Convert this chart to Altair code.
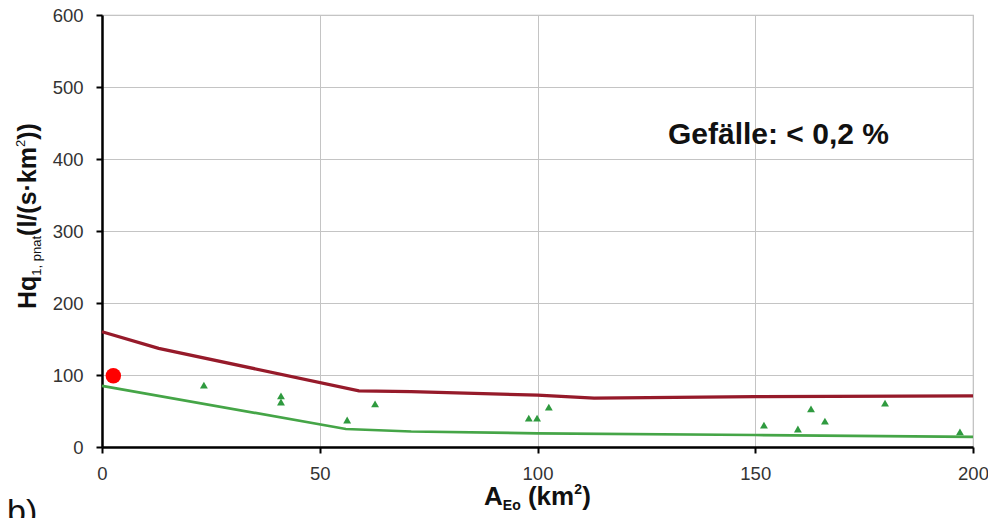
import altair as alt
import pandas as pd

# ---- data ----
red_x = [0, 13, 59, 71, 100, 113, 150, 200]
red_y = [160, 137, 78, 77, 72, 68, 70, 71]
green_x = [0, 56, 71, 100, 150, 200]
green_y = [85, 25, 21.5, 19, 16.7, 14]
obs_x = [23.4, 41.1, 41.1, 56.3, 62.7, 98.0, 99.9, 102.6, 152.0, 159.8, 162.8, 166.0, 179.8, 197.0]
obs_y = [86, 71, 62.5, 37.5, 60, 40, 40, 55.5, 30.5, 25, 53, 36, 61, 21]
dot_x = [2.6]
dot_y = [99]
x_ticks = [0, 50, 100, 150, 200]
y_ticks = [0, 100, 200, 300, 400, 500, 600]
annotation = "Gefälle: < 0,2 %"
panel_label = "b)"

W, H = 871, 432
FONT = "Liberation Sans"

xs = alt.Scale(domain=[0, 200], nice=False, zero=False)
ys = alt.Scale(domain=[0, 600], nice=False, zero=False)
x_axis = alt.Axis(values=x_ticks, title=None, labelFlush=False, grid=True,
                  labelPadding=11)
y_axis = alt.Axis(values=y_ticks, title=None, grid=True, labelPadding=13)


def enc_x():
    return alt.X("x:Q", scale=xs, axis=x_axis)


def enc_y():
    return alt.Y("y:Q", scale=ys, axis=y_axis)


red = alt.Chart(pd.DataFrame({"x": red_x, "y": red_y})).mark_line(
    color="#961A2A", strokeWidth=3.2
).encode(x=enc_x(), y=enc_y())

green = alt.Chart(pd.DataFrame({"x": green_x, "y": green_y})).mark_line(
    color="#45A547", strokeWidth=2.7
).encode(x=enc_x(), y=enc_y())

obs = alt.Chart(pd.DataFrame({"x": obs_x, "y": obs_y})).mark_point(
    shape="triangle-up", filled=True, color="#2F9A3F", size=62, opacity=1
).encode(x=enc_x(), y=enc_y())

dot = alt.Chart(pd.DataFrame({"x": dot_x, "y": dot_y})).mark_point(
    shape="circle", filled=True, color="#FF0000", size=240, opacity=1
).encode(x=enc_x(), y=enc_y())


def txt(s, x, y, size, weight="normal", angle=0, color="#111111"):
    return alt.Chart(pd.DataFrame({"t": [s]})).mark_text(
        font=FONT, fontSize=size, fontWeight=weight, angle=angle,
        align="left", baseline="alphabetic", color=color
    ).encode(x=alt.value(x), y=alt.value(y), text="t:N")


# annotation
ann = txt(annotation, 566, 129, 30, "bold")

# x-axis title: A_Eo (km^2)
xt_base = 490
xt = [
    txt("A", 382, xt_base, 26, "bold"),
    txt("Eo", 400.8, xt_base + 5, 14, "bold"),
    txt("(km", 425.9, xt_base, 26, "bold"),
    txt("2", 472.3, xt_base - 11, 14, "bold"),
    txt(")", 480.3, xt_base, 26, "bold"),
]

# y-axis title: Hq_{1, pnat}(l/(s·km^2)) rotated
yx = -66
yt = [
    txt("Hq", yx, 294, 25, "bold", 270),
    txt("1, pnat", yx + 5, 260.7, 13, "normal", 270),
    txt("(l/(s·km", yx, 220.9, 25, "bold", 270),
    txt("2", yx - 11, 132.0, 13, "normal", 270),
    txt("))", yx, 124.8, 25, "bold", 270),
]

blabel = txt(panel_label, -95, 508, 34, "normal")

chart = alt.layer(red, green, obs, dot, ann, *xt, *yt, blabel).properties(
    width=W, height=H,
    autosize=alt.AutoSizeParams(type="none"),
    padding={"left": 94, "top": 7, "right": 15, "bottom": 71},
).configure_view(
    stroke="#BDBDBD", strokeWidth=1.2
).configure_axis(
    labelFont=FONT, labelFontSize=18.5, labelColor="#333333",
    gridColor="#C4C4C4", gridWidth=1,
    domainColor="#000000", domainWidth=2.5,
    tickColor="#000000", tickWidth=2, tickSize=6,
)

chart.save("out.html", embed_options={"renderer": "svg", "actions": False})
